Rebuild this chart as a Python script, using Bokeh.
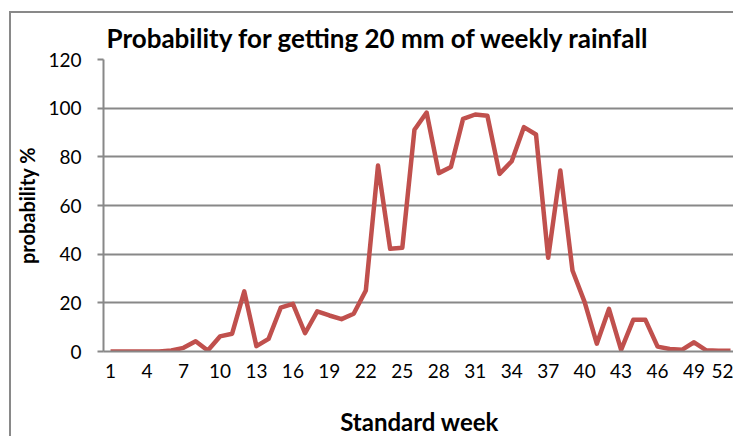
from bokeh.plotting import figure
from bokeh.models import Range1d, FixedTicker
from bokeh.embed import file_html
from bokeh.resources import INLINE

weeks = list(range(1, 53))
prob = [0, 0, 0, 0, 0, 0.4, 1.5, 4.2, 0.4, 6.2,
        7.3, 24.7, 2.2, 5.2, 18, 19.6, 7.5, 16.5, 14.8, 13.3,
        15.5, 25.1, 76.4, 42.2, 42.6, 91.1, 98.2, 73.3, 75.8, 95.6,
        97.4, 96.9, 73, 78.2, 92.2, 89.2, 38.5, 74.4, 33.3, 20.3,
        3.2, 17.5, 0.7, 13, 13, 2, 1, 0.7, 3.8, 0.5,
        0.3, 0.3]
x_ticks = list(range(1, 53, 3))
y_ticks = [0, 20, 40, 60, 80, 100, 120]

title_text = "Probability for getting 20 mm of weekly rainfall"
GRAY = "#888888"
FONT = "Lato"

p = figure(width=724, height=425, output_backend="svg", toolbar_location=None,
           x_range=Range1d(0.42, 52.41), y_range=Range1d(0, 120),
           min_border_left=92, min_border_right=0, min_border_top=46,
           min_border_bottom=87, title=title_text)
p.styles = {"border-left": "2px solid #898989", "border-top": "2px solid #898989",
            "margin-left": "9px", "margin-top": "11px"}

p.title.text_font = FONT
p.title.text_font_style = "bold"
p.title.text_font_size = "26px"
p.title.align = "left"
p.title.offset = 3
p.title.standoff = 11
p.title.text_color = "black"

p.outline_line_color = None
p.xgrid.grid_line_color = None
p.ygrid.grid_line_color = GRAY
p.ygrid.grid_line_width = 2
p.ygrid.ticker = FixedTicker(ticks=y_ticks)

p.line(weeks, prob, line_color="#C0504D", line_width=4.5, line_join="round")

ya = p.yaxis[0]
ya.ticker = FixedTicker(ticks=y_ticks)
ya.axis_line_color = GRAY
ya.axis_line_width = 2
ya.major_tick_line_color = GRAY
ya.major_tick_line_width = 2
ya.major_tick_out = 6
ya.major_tick_in = 0
ya.minor_tick_line_color = None
ya.major_label_text_font = FONT
ya.major_label_text_font_size = "19px"
ya.major_label_text_color = "black"
ya.major_label_standoff = 16
ya.axis_label = "probability %"
ya.axis_label_text_font = FONT
ya.axis_label_text_font_style = "bold"
ya.axis_label_text_font_size = "20px"
ya.axis_label_text_color = "black"
ya.axis_label_standoff = 6

xa = p.xaxis[0]
xa.ticker = FixedTicker(ticks=x_ticks)
xa.axis_line_color = GRAY
xa.axis_line_width = 2
xa.major_tick_line_color = None
xa.minor_tick_line_color = None
xa.major_label_text_font = FONT
xa.major_label_text_font_size = "19px"
xa.major_label_text_color = "black"
xa.major_label_standoff = 6
xa.axis_label = "Standard week"
xa.axis_label_text_font = FONT
xa.axis_label_text_font_style = "bold"
xa.axis_label_text_font_size = "24px"
xa.axis_label_text_color = "black"
xa.axis_label_standoff = 26

open("out.html", "w").write(file_html(p, INLINE))
